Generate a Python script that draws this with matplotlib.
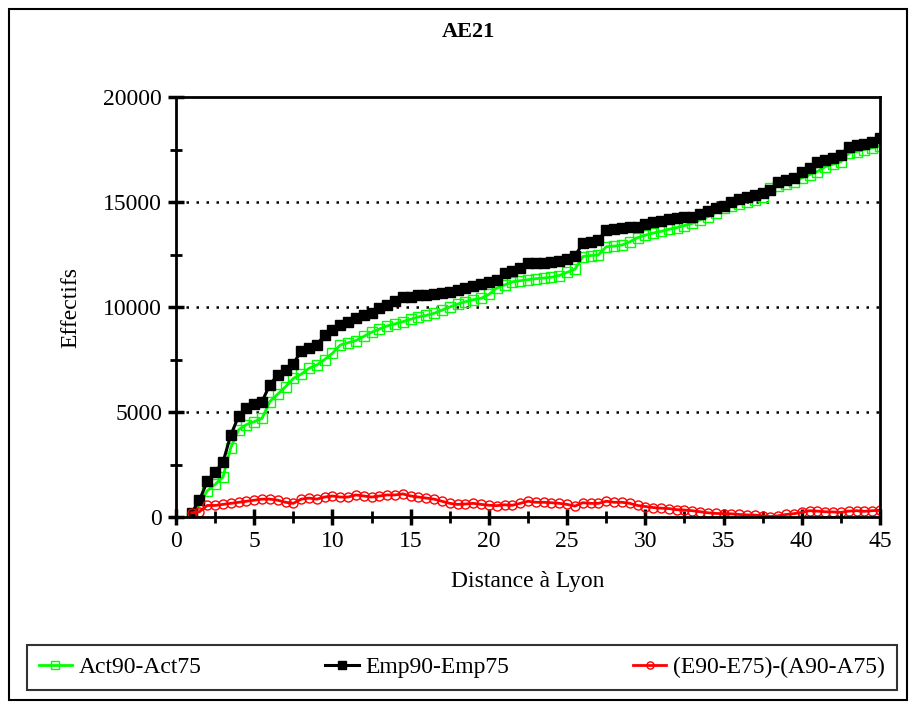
import matplotlib
matplotlib.use("Agg")
import matplotlib.pyplot as plt
from matplotlib.patches import Rectangle
from matplotlib.ticker import MultipleLocator
import numpy as np

plt.rcParams['font.family'] = ['Liberation Serif', 'DejaVu Serif']

# distance to Lyon, one point every half unit
distance = np.arange(1, 45.5, 0.5)

act = [0, 600, 1250, 1550, 1900, 3300, 4150, 4400, 4540, 4700,
       5500, 5850, 6200, 6600, 6800, 7080, 7240, 7500, 7800, 8190,
       8300, 8400, 8600, 8800, 8950, 9100, 9200, 9300, 9420, 9530,
       9600, 9700, 9850, 10000, 10140, 10250, 10350, 10410, 10600, 10900,
       11050, 11200, 11250, 11300, 11350, 11380, 11420, 11500, 11650, 11800,
       12400, 12450, 12480, 12870, 12900, 12950, 13100, 13300, 13420, 13520,
       13600, 13700, 13780, 13880, 13980, 14150, 14300, 14500, 14700, 14800,
       14920, 15000, 15100, 15250, 15650, 15750, 15850, 15950, 16150, 16300,
       16450, 16680, 16800, 16920, 17320, 17400, 17500, 17580, 17670]

emp = [200, 800, 1700, 2150, 2600, 3900, 4800, 5200, 5360, 5500,
       6300, 6760, 7000, 7300, 7900, 8030, 8190, 8670, 8900, 9140,
       9300, 9460, 9600, 9700, 9940, 10100, 10300, 10460, 10500, 10550,
       10580, 10620, 10650, 10700, 10800, 10900, 11000, 11100, 11200, 11300,
       11600, 11700, 11840, 12080, 12100, 12100, 12150, 12200, 12300, 12430,
       13030, 13100, 13190, 13670, 13700, 13750, 13800, 13820, 13950, 14050,
       14100, 14200, 14250, 14280, 14300, 14450, 14550, 14700, 14800, 15000,
       15150, 15250, 15330, 15450, 15570, 15970, 16050, 16130, 16440, 16600,
       16900, 17000, 17100, 17240, 17630, 17700, 17780, 17850, 18030]

diff = [200, 250, 550, 550, 600, 650, 700, 750, 800, 850,
        850, 800, 700, 650, 850, 900, 850, 950, 1000, 950,
        950, 1050, 1000, 950, 1000, 1050, 1050, 1100, 1000, 950,
        900, 850, 750, 650, 600, 620, 650, 600, 560, 540,
        580, 560, 650, 750, 700, 700, 680, 650, 600, 520,
        680, 650, 650, 750, 700, 700, 650, 550, 500, 450,
        420, 400, 350, 330, 300, 250, 200, 170, 160, 150,
        120, 100, 90, 60, 20, 60, 120, 160, 220, 300,
        280, 250, 240, 220, 280, 300, 270, 300, 320]

labels = ['Act90-Act75', 'Emp90-Emp75', '(E90-E75)-(A90-A75)']

fig = plt.figure(figsize=(9.18, 7.12), dpi=100)
ax = fig.add_axes([176 / 918, 1 - 517 / 712, 704 / 918, 420 / 712])

l1, = ax.plot(distance, act, color='#00ff00', lw=2, marker='s', ms=6.5,
              mfc='none', mec='#00ff00', mew=1)
l2, = ax.plot(distance, emp, color='black', lw=2.2, marker='s', ms=6.5,
              mfc='black', mec='black')
l3, = ax.plot(distance, diff, color='#ff0000', lw=2, marker='o', ms=6.5,
              mfc='none', mec='#ff0000', mew=1)

ax.set_xlim(0, 45)
ax.set_ylim(0, 20000)
ax.xaxis.set_major_locator(MultipleLocator(5))
ax.xaxis.set_minor_locator(MultipleLocator(2.5))
ax.yaxis.set_major_locator(MultipleLocator(5000))
ax.yaxis.set_minor_locator(MultipleLocator(2500))
ax.tick_params(which='major', direction='inout', length=12, width=2.5,
               labelsize=17, pad=4)
ax.tick_params(which='minor', direction='inout', length=8, width=2)
for s in ax.spines.values():
    s.set_linewidth(2)

for yv in [5000, 10000, 15000]:
    ax.axhline(yv, color='black', lw=1.8, ls=(0, (1, 3)), zorder=0)

ax.set_xlabel('Distance à Lyon', fontsize=17, labelpad=14)
ax.set_ylabel('Effectifs', fontsize=17, labelpad=16)

fig.text(0.51, 1 - 32 / 712, 'AE21', ha='center', va='center',
         fontsize=16, fontweight='bold')

leg = fig.legend([l1, l2, l3], labels, ncol=3, loc='lower left',
                 bbox_to_anchor=(27 / 918, 1 - 690 / 712, 870 / 918, 41 / 712),
                 mode='expand', fontsize=17, frameon=True, fancybox=False,
                 handlelength=1.4, handletextpad=0.3, borderpad=0.5,
                 borderaxespad=0, markerscale=0.8)
leg.get_frame().set_edgecolor('black')
leg.get_frame().set_linewidth(1.5)

fig.patches.append(Rectangle((9 / 918, 1 - 700 / 712), 898 / 918, 691 / 712,
                             transform=fig.transFigure, fill=False,
                             edgecolor='black', lw=1.5))

fig.savefig('out.png', dpi=100)
